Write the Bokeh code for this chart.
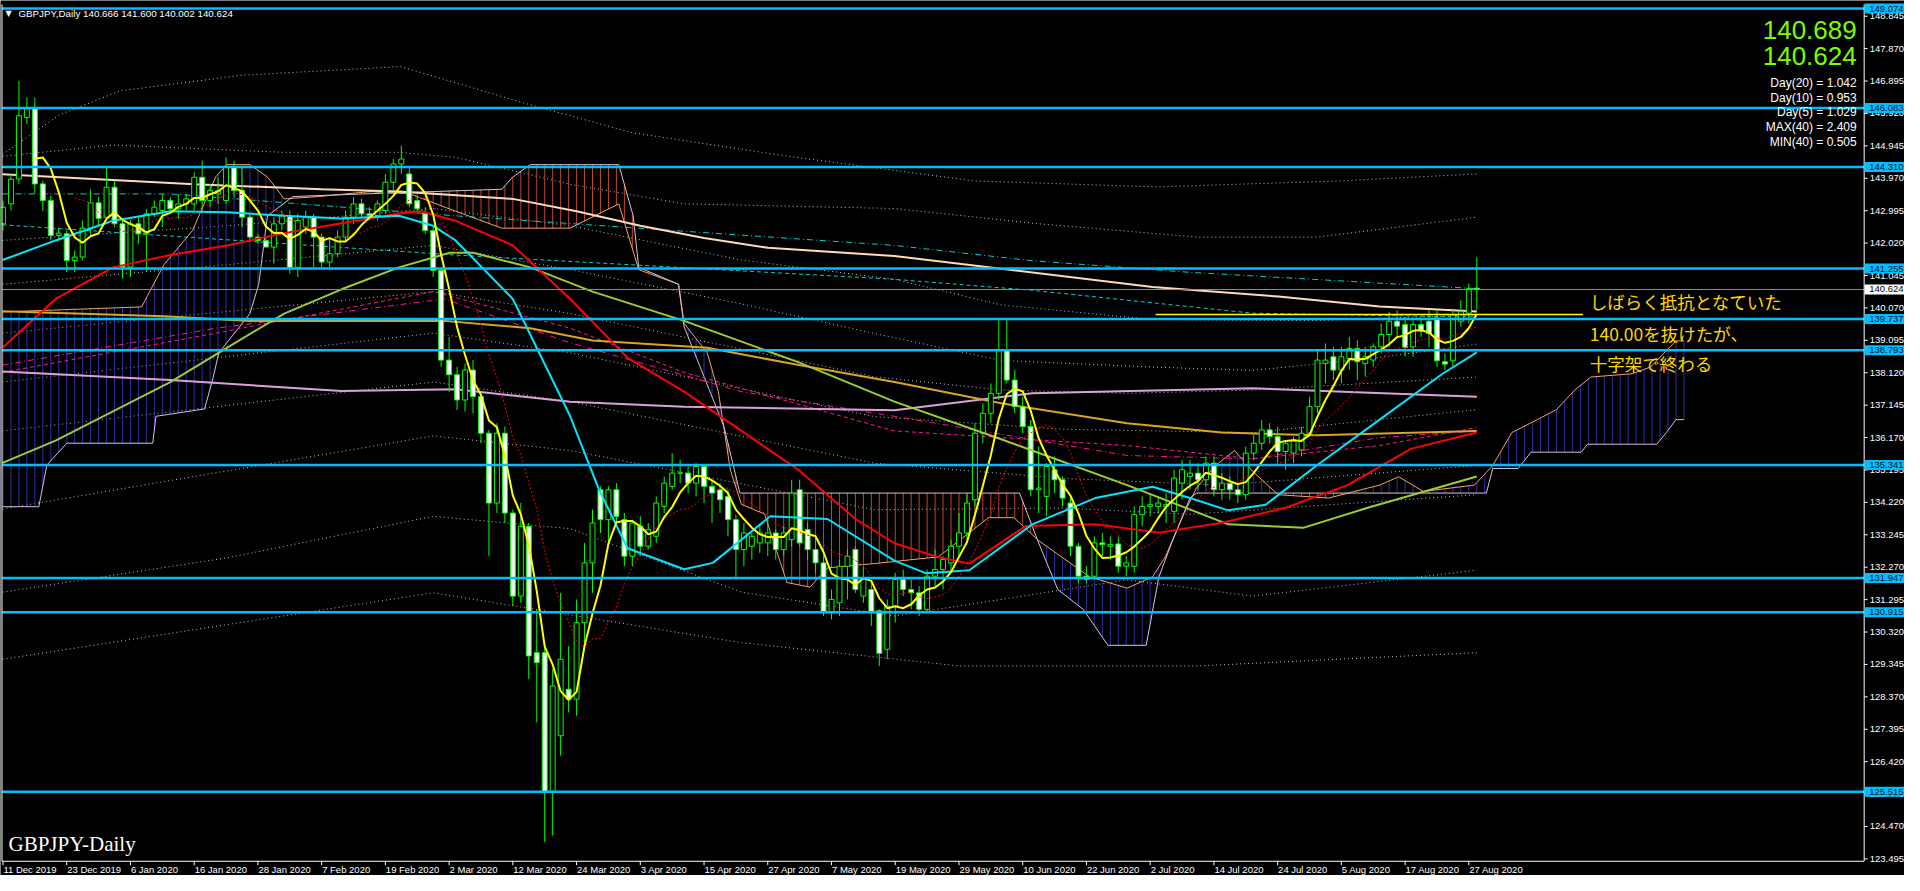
import numpy as np
import pandas as pd
from bokeh.plotting import figure
from bokeh.models import Range1d
from bokeh.core.properties import value
from bokeh.embed import file_html
from bokeh.resources import INLINE

# ---------------- data ----------------
dates = [d for d in pd.bdate_range("2019-12-11", "2020-08-28")
         if not ((d.month == 12 and d.day == 25) or (d.month == 1 and d.day == 1))]

open_ = [142.6,143.2,143.95,145.8,146.1,143.8,143.3,142.25,142.3,141.5,141.6,142.47,143.23,142.8,143.7,142.6,141.3,142.6,142.3,142.9,
         143.0,143.3,143.05,143.2,143.2,144.0,143.3,143.5,143.3,144.3,143.6,142.8,142.2,142.1,141.9,142.6,142.84,141.29,142.5,142.8,
         142.2,141.45,141.7,142.2,142.8,143.2,142.9,142.85,143.0,143.85,144.4,144.1,143.3,142.9,142.4,141.2,138.5,138.06,137.3,138.2,
         137.4,136.3,134.2,136.3,133.9,131.4,133.5,129.7,129.7,125.5,127.2,128.6,128.3,130.6,132.4,134.6,133.7,134.6,133.7,132.6,
         133.5,132.9,133.2,134.1,134.7,135.1,135.1,134.8,135.3,134.7,134.6,134.4,133.7,132.8,132.9,133.0,133.0,133.3,132.8,133.1,
         134.6,133.4,132.8,132.4,130.9,131.2,132.3,132.8,131.4,131.6,130.96,129.8,131.1,131.9,131.6,131.5,131.0,132.0,132.2,132.4,
         132.9,133.3,134.3,136.3,136.9,137.5,138.8,137.9,137.1,136.5,134.6,134.4,135.2,134.9,134.2,132.9,132.0,132.0,133.0,132.9,
         132.97,132.3,132.3,133.85,134.1,134.1,134.1,133.95,134.8,135.0,135.1,134.9,135.4,134.6,134.8,134.6,134.45,135.7,136.0,136.4,
         136.2,135.75,135.7,135.8,136.3,137.1,138.4,138.6,138.2,138.55,138.85,138.4,138.5,138.9,139.27,139.67,139.57,138.9,139.57,139.67,
         139.77,138.45,138.48,139.67,139.91,140.666]
high = [143.3,144.1,146.9,146.4,146.4,143.9,143.45,142.5,142.4,141.8,142.7,143.64,143.4,144.3,143.9,142.75,142.7,142.8,143.05,143.3,
        143.5,143.4,143.5,143.5,144.15,144.5,143.8,144.0,144.6,144.5,144.3,142.9,142.3,142.2,142.8,143.0,143.0,142.9,143.0,142.9,
        142.3,142.2,142.4,143.0,143.4,143.35,143.1,143.3,144.1,144.55,144.95,144.3,143.4,143.1,142.5,141.3,139.2,138.3,138.4,138.5,
        137.5,136.4,136.6,136.5,134.0,134.2,133.6,131.0,130.0,129.2,131.5,129.9,131.3,133.0,134.0,134.7,134.7,134.8,133.9,133.7,
        133.8,133.6,134.4,135.0,135.7,135.5,135.3,135.4,135.35,134.9,134.8,134.6,133.85,133.6,133.3,133.5,133.7,133.4,133.5,134.9,
        134.9,133.6,133.2,132.6,131.6,132.5,132.8,132.9,132.3,131.8,131.0,131.3,132.1,132.2,131.9,131.7,132.2,132.8,132.6,133.1,
        133.9,134.5,136.6,137.2,137.8,139.7,139.7,138.2,137.4,136.7,135.9,135.4,135.6,135.0,134.4,133.0,132.3,133.2,133.3,133.2,
        133.2,132.6,134.1,134.4,134.5,134.4,134.5,135.2,135.5,135.5,135.4,135.6,135.6,135.1,135.0,134.8,135.9,136.3,136.7,136.6,
        136.5,136.1,136.2,136.5,137.4,138.8,139.0,138.9,138.9,139.2,139.1,138.9,139.0,139.6,139.95,140.0,139.8,139.7,139.75,140.0,
        140.0,138.7,140.05,140.3,140.8,141.6]
low = [142.4,143.0,143.8,145.6,143.5,142.98,142.1,142.1,141.15,141.15,141.5,142.3,142.55,142.7,142.5,140.95,141.0,142.0,141.15,142.8,
       142.5,142.9,142.75,143.0,143.0,143.0,143.1,143.2,143.2,143.4,142.5,142.1,142.0,141.9,141.4,142.4,141.1,141.0,142.3,141.3,
       141.3,141.3,141.6,142.1,142.6,142.8,142.7,142.7,142.9,143.6,144.1,143.1,142.9,142.3,141.0,138.3,137.55,137.0,136.95,136.9,
       136.0,132.6,133.9,133.6,131.1,131.2,128.9,127.6,124.0,124.2,126.6,127.9,127.8,130.0,131.5,133.3,133.0,133.5,132.3,132.3,
       132.6,132.8,133.0,133.9,134.6,134.8,134.5,134.4,134.2,133.6,133.9,133.2,131.9,132.3,132.5,132.7,132.6,132.5,132.6,132.9,
       132.9,132.5,132.1,130.8,130.7,130.8,131.3,131.5,131.2,130.5,129.3,129.5,130.6,131.4,131.0,130.8,130.9,131.7,131.6,132.1,
       132.6,133.1,134.1,136.0,136.6,137.3,137.8,136.9,136.3,134.4,133.9,133.8,134.5,134.1,132.6,131.8,131.8,131.9,132.6,132.5,
       132.1,132.0,132.1,133.5,133.8,133.9,133.6,133.6,134.3,134.6,134.6,134.7,134.4,134.3,134.3,134.2,134.3,135.5,135.8,136.0,
       135.4,135.2,135.4,135.6,136.2,136.9,137.8,137.9,137.8,138.2,137.9,138.0,138.3,138.7,138.9,139.2,138.6,138.6,139.2,138.9,
       138.3,138.2,138.3,139.5,139.6,140.002]
close = [143.1,143.94,145.85,146.1,143.8,143.3,142.25,142.32,141.5,141.6,142.47,143.23,142.76,143.7,142.6,141.3,142.6,142.3,142.9,143.1,
         143.3,143.05,143.2,143.35,144.0,143.3,143.6,143.6,144.3,143.6,142.8,142.2,142.1,141.9,142.6,142.84,141.29,142.7,142.8,142.2,
         141.45,141.7,142.2,142.8,143.2,142.9,142.85,143.2,143.85,144.4,144.55,143.2,143.05,142.4,141.2,138.5,138.06,137.3,138.2,137.4,
         136.3,134.2,136.3,133.9,131.4,133.5,129.6,129.4,125.5,128.7,129.5,128.3,130.6,132.4,133.6,133.7,134.6,133.8,132.6,133.6,
         132.9,133.4,134.2,134.8,135.1,135.1,134.8,135.3,134.7,134.5,134.3,133.7,132.8,133.3,133.2,133.3,133.3,132.8,133.3,134.5,
         133.0,132.8,132.4,130.9,131.3,132.3,132.6,131.6,131.9,130.9,129.68,131.1,131.9,131.6,131.5,131.0,132.0,132.2,132.5,132.9,
         133.3,134.2,136.3,136.9,137.5,138.8,137.9,137.1,136.5,134.6,134.65,135.3,134.9,134.35,132.9,132.0,131.9,133.0,132.95,132.95,
         132.3,132.4,133.85,134.1,134.15,134.2,134.15,134.95,135.2,135.1,134.9,135.4,134.6,134.8,134.6,134.45,135.7,136.0,136.4,136.2,
         135.75,136.0,136.1,136.3,137.1,138.5,138.5,138.2,138.6,138.85,138.45,138.6,138.9,139.27,139.67,139.52,138.88,139.57,139.37,139.3,
         138.48,138.38,139.86,139.96,140.65,140.624]

y_ticks = [148.845,147.870,146.895,145.920,144.945,143.970,142.995,142.020,141.045,140.070,139.095,138.120,137.145,
           136.170,135.195,134.220,133.245,132.270,131.295,130.320,129.345,128.370,127.395,126.420,125.445,124.470,123.495]
x_tick_labels = ["11 Dec 2019","23 Dec 2019","6 Jan 2020","16 Jan 2020","28 Jan 2020","7 Feb 2020","19 Feb 2020",
                 "2 Mar 2020","12 Mar 2020","24 Mar 2020","3 Apr 2020","15 Apr 2020","27 Apr 2020","7 May 2020",
                 "19 May 2020","29 May 2020","10 Jun 2020","22 Jun 2020","2 Jul 2020","14 Jul 2020","24 Jul 2020",
                 "5 Aug 2020","17 Aug 2020","27 Aug 2020"]

levels = [149.074,146.083,144.310,141.255,139.737,138.793,135.341,131.947,130.915,125.515]
last_price = 140.624
resist_level = 139.87

# moving averages (bar index, price)
peach_i = [-0.06,24.0,40.0,49.7,64.0,72.0,80.0,88.0,96.0,111.9,144.3,160.1,172.8,185.0]
peach_p = [144.09,143.79,143.64,143.57,143.35,142.98,142.54,142.17,141.88,141.63,140.70,140.41,140.11,139.96]
olive_i = [-0.06,6.6,21.0,28.1,35.3,42.5,49.7,56.1,59.0,66.2,74.0,85.5,99.9,111.9,125.3,141.1,153.8,163.3,171.2,185.0]
olive_p = [135.41,136.08,137.84,138.87,139.9,140.63,141.29,141.73,141.73,141.29,140.56,139.68,138.43,137.25,136.12,134.74,133.56,133.46,134.05,135.0]
red_i = [-0.06,6.6,13.8,21.0,28.1,35.3,42.5,49.7,52.5,56.8,64.0,71.2,78.4,85.5,92.7,99.9,107.0,111.9,117.3,121.3,128.4,137.1,145.1,153.0,160.9,168.8,176.7,185.0]
red_p = [138.87,140.34,141.29,141.66,141.95,142.32,142.62,142.91,142.98,142.69,141.95,140.34,138.57,137.55,136.37,135.19,133.72,132.99,132.58,132.38,133.51,133.56,133.31,133.61,134.05,134.74,135.83,136.32]
cyan_i = [-0.06,6.6,13.8,21.0,28.1,35.3,42.5,49.7,54.0,56.8,64.0,71.2,74.8,78.4,85.5,89.1,96.3,103.5,111.9,115.8,121.3,129.2,137.1,144.3,149.0,153.8,158.5,164.9,172.8,180.7,185.0]
cyan_p = [141.51,142.1,142.69,142.98,142.95,142.84,142.76,142.84,142.54,142.1,140.34,136.81,134.61,132.84,132.21,132.4,133.8,133.72,132.47,132.09,132.18,133.56,134.35,134.69,134.35,133.98,134.15,135.33,136.71,138.09,138.73]
gold_i = [-0.06,20.2,31.0,55.4,66.2,74.0,88.4,99.9,111.9,125.3,141.1,153.0,164.9,185.0]
gold_p = [139.97,139.82,139.68,139.68,139.46,139.09,138.87,138.35,137.84,137.2,136.6,136.32,136.24,136.37]
plum_i = [-0.06,21.0,42.5,56.8,71.2,85.5,111.9,129.2,156.9,185.0]
plum_p = [138.16,137.9,137.57,137.62,137.25,137.1,136.99,137.5,137.65,137.4]
cdash1_i = [-0.06,21.0,56.8,111.9,129.2,149.0,185.0]
cdash1_p = [143.5,143.5,142.84,141.95,141.49,141.14,140.65]
cdash2_i = [-0.06,56.8,111.9,129.2,156.9,180.7,185.0]
cdash2_p = [142.57,141.66,140.93,140.6,139.91,139.81,139.8]
mdash1_i = [-0.06,26.7,54.0,71.2,85.5,111.9,141.1,156.9,172.8,185.0]
mdash1_p = [138.13,139.31,140.56,139.46,138.13,136.37,135.93,135.53,135.93,136.47]
mdash2_i = [-0.06,26.7,55.4,71.2,92.7,111.9,141.1,156.9,172.8,185.0]
mdash2_p = [138.35,139.46,140.34,139.02,137.55,136.81,135.63,135.53,136.17,136.37]

# dotted envelope lines
env_i = [
    [-0.06,7.1,14.7,30.0,49.9,65.3,79.0,98.9,121.9,144.8,167.8,185.0],
    [-0.06,13.8,35.3,49.7,56.8,71.2,85.5,111.9,130.0,150.0,165.0,185.0],
    [-0.06,28.1,54.0,71.2,92.7,111.9,125.3,144.3,164.9,185.0],
    [-0.06,28.1,54.0,71.2,92.7,109.4,125.3,144.3,156.9,172.8,185.0],
    [-0.06,54.0,71.2,109.4,125.3,141.1,156.9,185.0],
    [-0.06,54.0,71.2,109.4,133.2,156.9,185.0],
    [-0.06,54.0,71.2,109.4,133.2,153.0,185.0],
    [-0.06,54.0,71.2,109.4,133.2,149.0,185.0],
    [-0.06,28.1,54.0,71.2,92.7,111.9,141.1,156.9,185.0],
    [-0.06,54.0,92.7,120.0,150.0,185.0],
]
env_p = [
    [144.69,145.88,146.6,147.07,147.33,146.24,145.34,144.62,143.89,143.71,143.89,144.1],
    [144.63,144.97,144.75,144.75,144.6,143.79,143.2,143.06,142.6,142.2,142.2,142.8],
    [142.1,142.54,143.06,142.54,141.51,140.93,140.16,139.72,139.69,139.86],
    [140.78,141.37,141.95,141.22,140.19,139.3,138.49,138.29,138.19,138.58,138.98],
    [139.31,140.56,139.9,138.0,137.6,137.5,137.6,137.99],
    [137.84,139.31,138.72,136.8,136.42,136.32,137.01],
    [136.37,137.84,137.25,135.4,134.94,134.74,135.33],
    [134.02,136.22,135.78,134.0,134.05,133.86,134.45],
    [131.52,132.55,133.8,133.43,131.52,130.8,131.89,131.4,132.18],
    [129.5,131.5,130.0,129.3,129.3,129.7],
]

# Ichimoku cloud spans (bar index, price)
spanA_i = [-0.06,17.4,20.2,23.8,26.7,28.1,31.0,33.2,35.3,39.6,46.1,51.1,56.8,62.6,71.2,77.3,79.8,84.8,85.5,88.4,89.8,91.3,92.7,95.6,98.4,101.3,103.5,
           109.4,117.4,123.7,126.9,130.0,136.4,141.1,144.3,145.9,148.2,149.8,152.2,154.6,156.9,160.1,166.4,172.8,175.2,178.3,184.7,187.0,189.4,192.6,195.0,197.3,199.3,204.5,206.8,210.0,211.0]
spanA_p = [139.95,140.1,141.37,142.4,144.01,144.38,144.38,144.01,143.35,143.42,143.57,143.5,142.98,142.47,142.47,143.2,141.22,140.78,139.6,138.72,137.55,135.19,134.16,133.87,131.81,131.67,132.25,
           132.38,132.58,133.76,133.76,133.07,131.98,131.64,131.98,132.58,133.86,134.65,135.33,135.78,135.14,134.45,134.35,134.74,134.99,134.55,134.74,135.33,136.32,136.71,137.01,137.6,137.99,138.09,138.29,139.08,139.08]
spanB_i = [-0.06,4.5,5.5,8.0,18.8,19.2,25.3,26.3,27.1,31.0,32.1,33.2,36.4,45.3,54.0,62.6,64.0,66.2,77.3,79.1,79.8,84.8,85.5,88.0,90.5,92.5,
           127.6,130.0,132.4,135.6,138.7,143.5,145.1,146.7,149.0,149.8,186.2,187.0,190.2,191.8,198.1,198.9,207.6,208.8,210.0,211.0]
spanB_p = [134.09,134.09,135.34,136.0,136.0,136.81,137.03,137.9,138.72,139.9,140.78,142.84,143.42,143.5,143.57,143.64,144.01,144.38,144.38,142.84,141.29,140.78,139.5,138.0,136.5,134.5,
           134.5,133.0,131.6,131.0,129.92,129.92,131.98,133.0,134.35,134.5,134.5,135.24,135.24,135.73,135.73,135.97,135.97,136.32,136.71,136.71]

info_big = ["140.689", "140.624"]
info_small = ["Day(20) = 1.042", "Day(10) = 0.953", "Day(5) = 1.029", "MAX(40) = 2.409", "MIN(40) = 0.505"]
header = "GBPJPY,Daily  140.666 141.600 140.002 140.624"
note_lines = ["しばらく抵抗となていた", "140.00を抜けたが、", "十字架で終わる"]

# ---------------- layout helpers: reference-pixel position -> data position ----------------
def px_i(x):
    return (x - 4.5) / 8.0

def px_p(y):
    return 148.845 - (y - 16.0) / 33.85

AX_FONT = "Liberation Sans"
X_LEFT, X_RIGHT = px_i(3.5), px_i(1873.5)       # chart-area edges
Y_BOTTOM, Y_TOP = px_p(876.5), px_p(4)

n = len(close)
idx = np.arange(n)
o = np.array(open_); h = np.array(high); l = np.array(low); c = np.array(close)

p = figure(width=1904, height=875,
           x_range=Range1d(px_i(2), px_i(1914)), y_range=Range1d(px_p(891), px_p(0)),
           x_axis_location=None, y_axis_location=None, toolbar_location=None, output_backend="svg",
           background_fill_color="black", border_fill_color="black", min_border=0, outline_line_color=None)
p.xgrid.visible = False
p.ygrid.visible = False

# dotted envelopes
for ei, ep in zip(env_i, env_p):
    p.line(ei, ep, line_color="#BEBEBE", line_width=1, line_dash="1 3")

# Ichimoku cloud hatch (one vertical stroke per bar)
cloud_x = np.arange(0, 212)
A = np.interp(cloud_x, spanA_i, spanA_p)
B = np.interp(cloud_x, spanB_i, spanB_p)
up = A >= B
p.segment(x0=cloud_x[up], y0=A[up], x1=cloud_x[up], y1=B[up], line_color="#2E2EA8", line_width=1)
p.segment(x0=cloud_x[~up], y0=A[~up], x1=cloud_x[~up], y1=B[~up], line_color="#C2452A", line_width=1)
p.line(spanA_i, spanA_p, line_color="#F4A460", line_width=1)
p.line(spanB_i, spanB_p, line_color="#D8BFD8", line_width=1)

# slow averages
p.line(mdash1_i, mdash1_p, line_color="#FF1493", line_width=1, line_dash="4 3")
p.line(mdash2_i, mdash2_p, line_color="#FF1493", line_width=1, line_dash="6 3 1 3")
p.line(cdash1_i, cdash1_p, line_color="#00CED1", line_width=1, line_dash="6 3 1 3")
p.line(cdash2_i, cdash2_p, line_color="#00CED1", line_width=1, line_dash="4 3")
p.line(plum_i, plum_p, line_color="#DDA0DD", line_width=2)
p.line(gold_i, gold_p, line_color="#DAA520", line_width=2)
p.line(peach_i, peach_p, line_color="#FFDAB9", line_width=2)

# candles
bull = c > o
bear = ~bull
p.segment(x0=idx, y0=l, x1=idx, y1=h, line_color="#00FF00", line_width=1)
p.vbar(x=idx[bull], bottom=o[bull], top=c[bull], width=0.62, fill_color="black", line_color="#00FF00", line_width=1)
p.vbar(x=idx[bear], bottom=c[bear], top=o[bear], width=0.62, fill_color="white", line_color="#00FF00", line_width=1)

# faster averages
p.line(olive_i, olive_p, line_color="#9ACD32", line_width=2)
p.line(red_i, red_p, line_color="#FF0000", line_width=2)
p.line(cyan_i, cyan_p, line_color="#00E5FF", line_width=2)
sma10 = pd.Series(c).rolling(10).mean().to_numpy()
sma5 = pd.Series(c).rolling(5).mean().to_numpy()
p.line(idx[9:], sma10[9:], line_color="#FF0000", line_width=1, line_dash="2 2")
p.line(idx[4:], sma5[4:], line_color="#FFFF00", line_width=2)

# horizontal levels
for lv in levels:
    p.line([X_LEFT, X_RIGHT], [lv, lv], line_color="#00BFFF", line_width=2.5)
p.line([X_LEFT, X_RIGHT], [last_price, last_price], line_color="#8C8C8C", line_width=1)
p.line([px_i(1162), px_i(1591)], [resist_level, resist_level], line_color="#FFFF00", line_width=1.5)

# chart frame and axes (price scale on the right, dates below)
p.line([X_LEFT, X_LEFT], [Y_BOTTOM, Y_TOP], line_color="white", line_width=1)
p.line([X_RIGHT, X_RIGHT], [Y_BOTTOM, Y_TOP], line_color="white", line_width=1)
p.line([X_LEFT, X_RIGHT], [Y_BOTTOM, Y_BOTTOM], line_color="white", line_width=1)
p.segment(x0=[X_RIGHT] * len(y_ticks), y0=y_ticks, x1=[px_i(1877)] * len(y_ticks), y1=y_ticks,
          line_color="white", line_width=1)
p.text(x=[px_i(1879)] * len(y_ticks), y=y_ticks, text=[f"{v:.3f}" for v in y_ticks], text_color="white",
       text_font=value(AX_FONT), text_font_size="9.5px", text_baseline="middle", text_align="left")
x_ticks = list(idx[::8])
p.segment(x0=x_ticks, y0=[Y_BOTTOM] * len(x_ticks), x1=x_ticks, y1=[px_p(880.5)] * len(x_ticks),
          line_color="white", line_width=1)
p.text(x=[t + 0.06 for t in x_ticks], y=[px_p(884.5)] * len(x_ticks), text=x_tick_labels, text_color="white",
       text_font=value(AX_FONT), text_font_size="9.5px", text_baseline="middle", text_align="left")

# price tags on the scale
tag_x = px_i(1894)
p.rect(x=[tag_x] * len(levels), y=levels, width=40, height=10, width_units="screen", height_units="screen",
       fill_color="#00BFFF", line_color=None)
p.text(x=[px_i(1878.5)] * len(levels), y=levels, text=[f"{v:.3f}" for v in levels], text_color="#00102A",
       text_font=value(AX_FONT), text_font_size="9.5px", text_baseline="middle", text_align="left")
p.rect(x=[tag_x], y=[last_price], width=40, height=10, width_units="screen", height_units="screen",
       fill_color="white", line_color=None)
p.text(x=[px_i(1878.5)], y=[last_price], text=[f"{last_price:.3f}"], text_color="black",
       text_font=value(AX_FONT), text_font_size="9.5px", text_baseline="middle", text_align="left")

# texts
p.text(x=[px_i(7)], y=[px_p(13)], text=["▼"], text_color="white", text_font=value("DejaVu Sans"),
       text_font_size="8px", text_baseline="middle")
p.text(x=[px_i(20)], y=[px_p(13)], text=[header], text_color="white", text_font=value(AX_FONT),
       text_font_size="9.8px", text_baseline="middle")
p.text(x=[px_i(1866)] * 2, y=[px_p(30), px_p(57)], text=info_big, text_color="#7CFC00",
       text_font=value(AX_FONT), text_font_size="26px", text_align="right", text_baseline="middle")
p.text(x=[px_i(1866)] * 5, y=[px_p(v) for v in (84, 99, 114, 129, 144)], text=info_small, text_color="white",
       text_font=value(AX_FONT), text_font_size="12px", text_align="right", text_baseline="middle")
p.text(x=[px_i(10)], y=[px_p(859)], text=["GBPJPY-Daily"], text_color="white",
       text_font=value("Liberation Serif"), text_font_size="21px", text_baseline="middle")
p.text(x=[px_i(1598)] * 3, y=[px_p(306), px_p(339), px_p(370)], text=note_lines, text_color="#FFD700",
       text_font=value("Noto Sans CJK JP"), text_font_size="17.5px", text_baseline="middle")

open("out.html", "w").write(file_html(p, INLINE))
